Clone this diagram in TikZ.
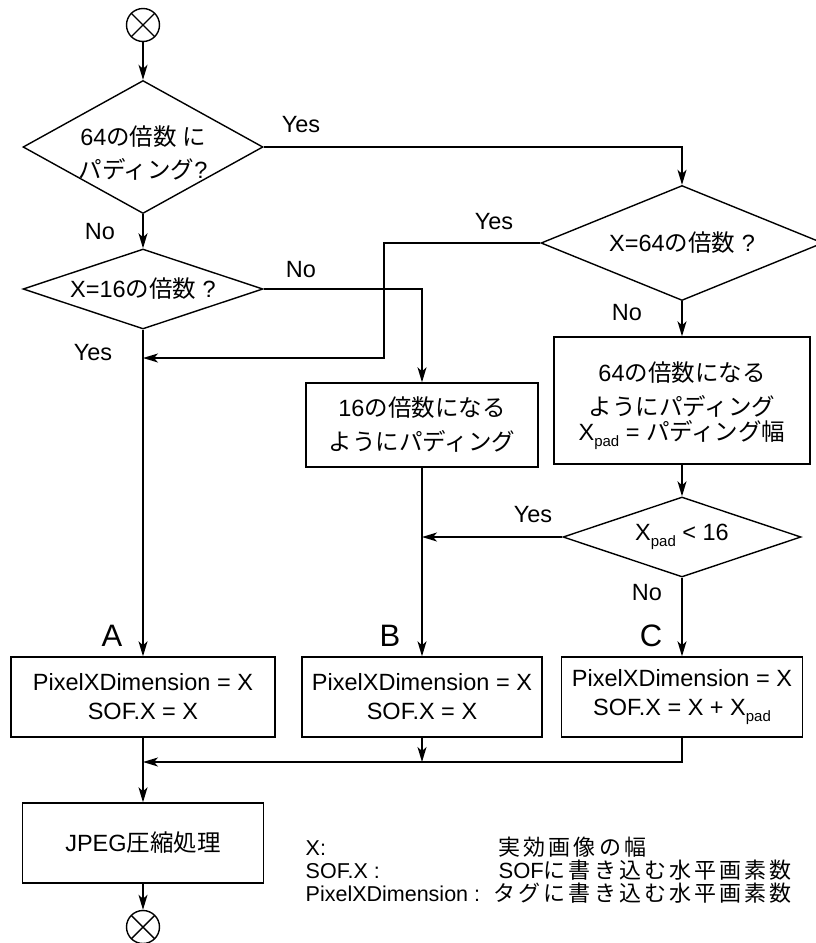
\documentclass[tikz,border=0pt]{standalone}
\usepackage{fontspec}
\setmainfont{Liberation Sans}
\newfontfamily\jp{Noto Sans CJK JP}
\newfontfamily\jpl[LetterSpace=14]{Noto Sans CJK JP}
\newcommand\J[1]{{\jp #1}}
\newcommand\JL[1]{{\jpl #1}}
\newcommand\pad{\raisebox{-0.5ex}{\fontsize{15}{15}\selectfont pad}}
\usetikzlibrary{shapes.geometric,arrows.meta}
\begin{document}
\begin{tikzpicture}[x=1pt,y=-1pt,
  line width=1.4pt,
  every node/.style={font=\fontsize{23.5}{33}\selectfont},
  arr/.style={-{Stealth[length=15pt,width=9pt,inset=4pt]}},
  procbox/.style={draw, rectangle, inner sep=0pt, align=center},
  decide/.style={draw, diamond, inner sep=0pt},
  term/.style={draw, circle, minimum size=33pt, inner sep=0pt,
    path picture={\draw (path picture bounding box.north west) -- (path picture bounding box.south east)
      (path picture bounding box.north east) -- (path picture bounding box.south west);}},
  lbl/.style={inner sep=0pt},
  big/.style={inner sep=0pt, font=\fontsize{31}{31}\selectfont},
  leg/.style={inner sep=0pt, anchor=base west, font=\fontsize{21.5}{22}\selectfont},
  legj/.style={inner sep=0pt, anchor=base west, font=\fontsize{22}{22}\selectfont}
]
\useasboundingbox (0,0) rectangle (816,943);

% nodes
\node[term] (s) at (143,25) {};
\node[decide, minimum width=240pt, minimum height=133pt,
  label={[align=center, yshift=-6pt]center:64\J{の倍数 に}\\\J{パディング}?}] (d1) at (143,147) {};
\node[decide, minimum width=240pt, minimum height=80pt,
  label={center:X=16\J{の倍数} ?}] (d2) at (143,289) {};
\node[decide, minimum width=282pt, minimum height=115pt,
  label={center:X=64\J{の倍数} ?}] (d3) at (682,243) {};
\node[procbox, minimum width=232pt, minimum height=84pt, font=\fontsize{23.5}{34}\selectfont] (b16) at (422,425)
  {16\J{の倍数になる}\\\J{ようにパディング}};
\node[procbox, minimum width=256pt, minimum height=127pt,
  label={[align=center, yshift=-5pt, font=\fontsize{23.5}{34}\selectfont]center:64\J{の倍数になる}\\\J{ようにパディング}\\[-9pt]X\pad{} = \J{パディング幅}}] (b64) at (682,400.5) {};
\node[decide, minimum width=238pt, minimum height=80pt,
  label={center:X\pad{} < 16}] (d4) at (682,537) {};
\node[procbox, minimum width=264pt, minimum height=80pt, font=\fontsize{23.5}{29}\selectfont] (bA) at (143,697)
  {PixelXDimension = X\\SOF.X = X};
\node[procbox, minimum width=240pt, minimum height=80pt, font=\fontsize{23.5}{29}\selectfont] (bB) at (422,697)
  {PixelXDimension = X\\SOF.X = X};
\node[procbox, minimum width=241pt, minimum height=80pt, font=\fontsize{23.5}{29}\selectfont] (bC) at (682,697)
  {PixelXDimension = X\\SOF.X = X + X\pad};
\node[procbox, minimum width=241pt, minimum height=80pt] (jpeg) at (143,843) {JPEG\J{圧縮処理}};
\node[term] (e) at (143,927) {};

% junction coordinates
\coordinate (k1) at (384,243);
\coordinate (jA) at (143,358);
\coordinate (jB) at (422,537);
\coordinate (jB2) at (422,762);
\coordinate (jA2) at (143,762);

% connectors
\draw[arr] (s) -- (d1);
\draw[arr] (d1.east) -| (d3.north);
\draw[arr] (d1) -- (d2);
\draw[arr] (d2.east) -| (b16.north);
\draw[arr] (d3.west) -- (k1) |- (jA);
\draw[arr] (d2.south) -- (bA.north);
\draw[arr] (d3.south) -- (b64.north);
\draw[arr] (b64) -- (d4);
\draw[arr] (d4.west) -- (jB);
\draw[arr] (d4.south) -- (bC.north);
\draw[arr] (b16.south) -- (bB.north);
\draw[arr] (bB.south) -- (jB2);
\draw[arr] (bC.south) |- (jA2);
\draw[arr] (bA.south) -- (jpeg.north);
\draw[arr] (jpeg.south) -- (e);

% branch labels
\node[lbl] (y1) at (301,125) {Yes};
\node[lbl] (n1) at (100,232) {No};
\node[lbl] (n2) at (301,270) {No};
\node[lbl] (y2) at (494,222) {Yes};
\node[lbl] (y3) at (93,353) {Yes};
\node[lbl] (n3) at (627,313) {No};
\node[lbl] (y4) at (533,515) {Yes};
\node[lbl] (n4) at (647,593) {No};
\node[big] (la) at (112,636) {A};
\node[big] (lb) at (390,636) {B};
\node[big] (lc) at (651,636) {C};

% legend
\node[leg] (k1a) at (305,855) {X:};
\node[leg] (k2a) at (305,878) {SOF.X :};
\node[leg] (k3a) at (305,901) {PixelXDimension :};
\node[legj] (k1b) at (498,855) {\JL{実効画像の幅}};
\node[legj] (k2b) at (498,878) {SOF\JL{に書き込む水平画素数}};
\node[legj] (k3b) at (493,901) {\JL{タグに書き込む水平画素数}};
\end{tikzpicture}
\end{document}
